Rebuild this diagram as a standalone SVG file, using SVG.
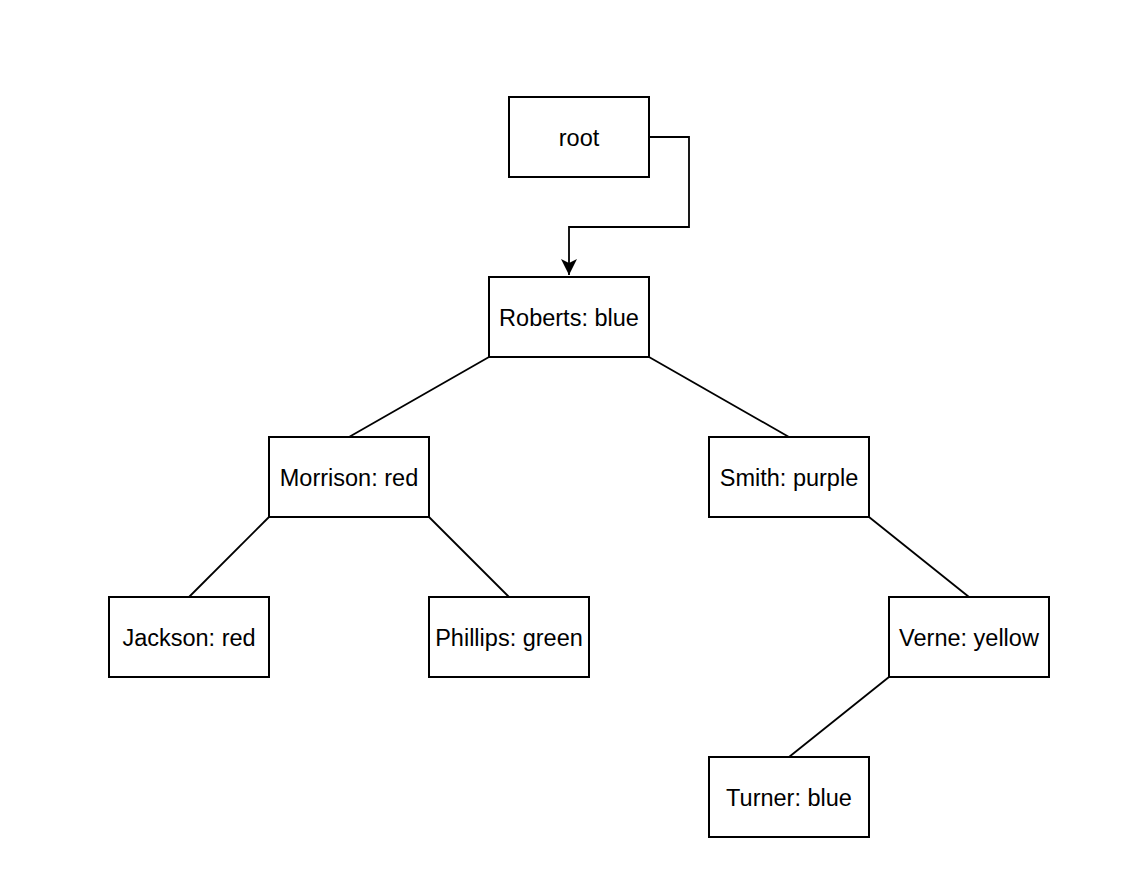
<svg xmlns="http://www.w3.org/2000/svg" width="1142" height="890" viewBox="0 0 1142 890">
<style>
.n rect{fill:#fff;stroke:#000;stroke-width:2}
.n text{font-family:"Liberation Sans",Arial,sans-serif;font-size:23.5px;fill:#000;text-anchor:middle;dominant-baseline:central}
.e{fill:none;stroke:#000;stroke-width:1.8}
</style>
<defs>
<marker id="arr" markerUnits="userSpaceOnUse" markerWidth="20" markerHeight="20" refX="16" refY="8" orient="auto" viewBox="0 0 20 16">
<path d="M0,0 L16,8 L0,16 L4,8 Z" fill="#000"/>
</marker>
</defs>
<rect width="1142" height="890" fill="#fff"/>
<g id="connectors">
<path class="e" d="M649,137 H689 V227 H569 V275" marker-end="url(#arr)"/>
<path class="e" d="M489,357 L349,437"/>
<path class="e" d="M649,357 L789,437"/>
<path class="e" d="M269,517 L189,597"/>
<path class="e" d="M429,517 L509,597"/>
<path class="e" d="M869,517 L969,597"/>
<path class="e" d="M889,677 L789,757"/>
</g>
<g id="root" class="n"><rect x="509" y="97" width="140" height="80"/><text x="579" y="138">root</text></g>
<g id="roberts" class="n"><rect x="489" y="277" width="160" height="80"/><text x="569" y="318">Roberts: blue</text></g>
<g id="morrison" class="n"><rect x="269" y="437" width="160" height="80"/><text x="349" y="478">Morrison: red</text></g>
<g id="smith" class="n"><rect x="709" y="437" width="160" height="80"/><text x="789" y="478">Smith: purple</text></g>
<g id="jackson" class="n"><rect x="109" y="597" width="160" height="80"/><text x="189" y="638">Jackson: red</text></g>
<g id="phillips" class="n"><rect x="429" y="597" width="160" height="80"/><text x="509" y="638">Phillips: green</text></g>
<g id="verne" class="n"><rect x="889" y="597" width="160" height="80"/><text x="969" y="638">Verne: yellow</text></g>
<g id="turner" class="n"><rect x="709" y="757" width="160" height="80"/><text x="789" y="798">Turner: blue</text></g>
</svg>
